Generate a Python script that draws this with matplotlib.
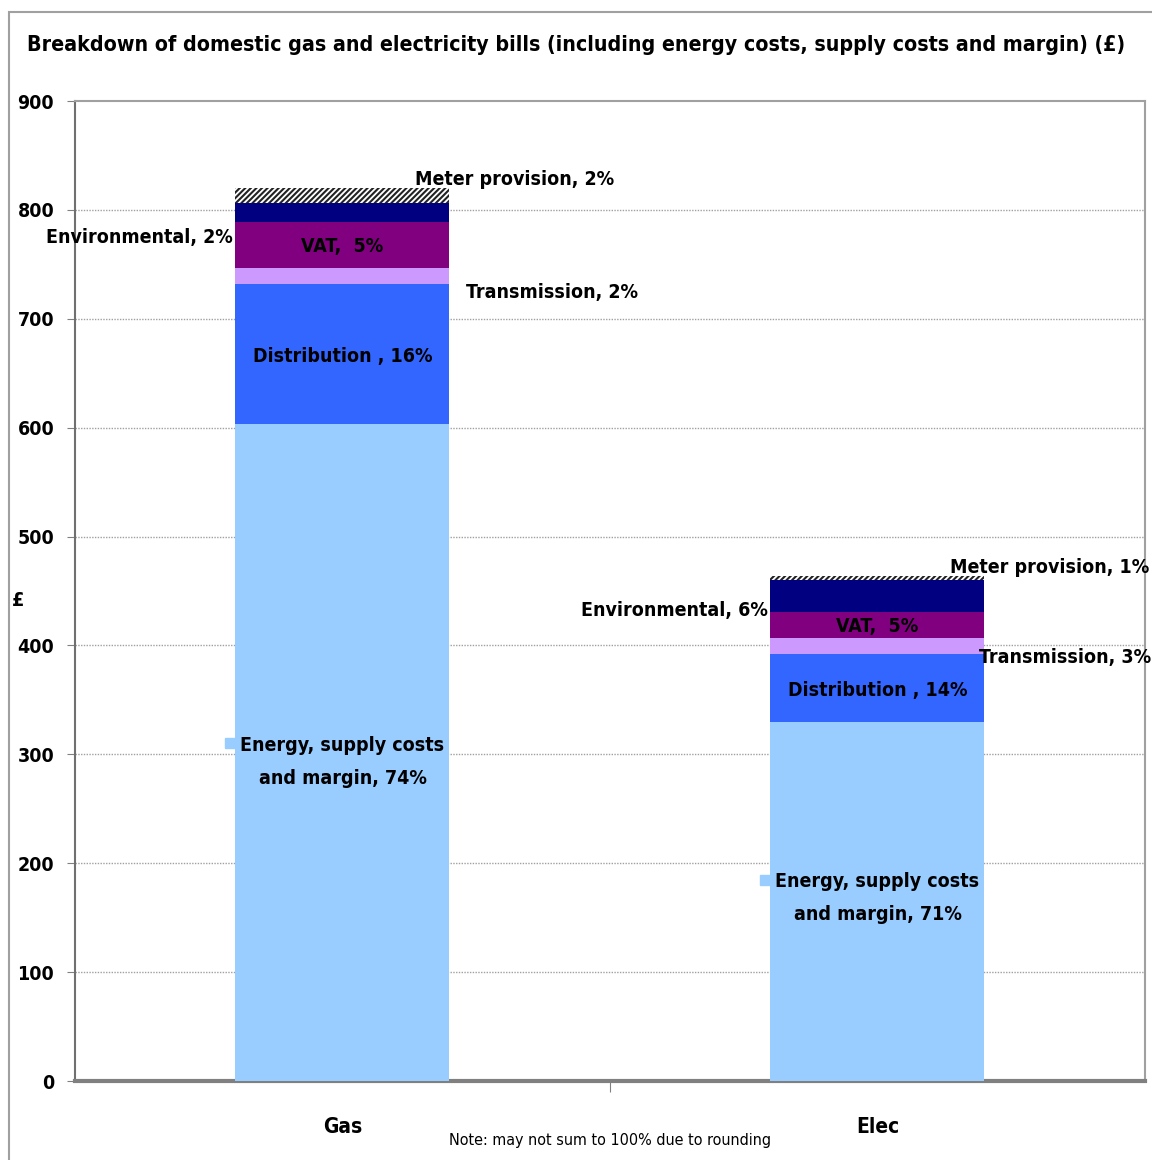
import matplotlib
matplotlib.use("Agg")
import matplotlib.pyplot as plt
from matplotlib.patches import Rectangle

plt.rcParams['font.family'] = ["DejaVu Sans"]
plt.rcParams['font.stretch'] = "condensed"
plt.rcParams['hatch.linewidth'] = 1.5

categories = ["Gas", "Elec"]
components = ["Energy, supply costs\nand margin", "Distribution ", "Transmission",
              "VAT", "Environmental", "Meter provision"]
gas_values = [603, 129, 15, 42, 17, 14]
elec_values = [330, 62, 15, 24, 29, 4]
gas_pct = [74, 16, 2, 5, 2, 2]
elec_pct = [71, 14, 3, 5, 6, 1]
y_ticks = [0, 100, 200, 300, 400, 500, 600, 700, 800, 900]

colors = ["#99CCFF", "#3366FF", "#CC99FF", "#800080", "#000080", "white"]
hatches = [None, None, None, None, None, "//////"]

fig = plt.figure(figsize=(11.52, 11.6), dpi=100)
ax = fig.add_axes([0.0651, 0.0681, 0.9288, 0.8448])

# outer chart frame
fig.patches.append(Rectangle((0.008, -0.05), 1.2, 1.04, transform=fig.transFigure,
                             fill=False, edgecolor="#A0A0A0", lw=1.5))

series = [gas_values, elec_values]
width = 0.4
for i, vals in enumerate(series):
    bottom = 0
    for j, v in enumerate(vals):
        ax.bar(i, v, width=width, bottom=bottom, color=colors[j],
               edgecolor="#222222" if hatches[j] else "none", linewidth=0,
               hatch=hatches[j], zorder=3)
        bottom += v

ax.set_xlim(-0.5, 1.5)
ax.set_ylim(0, 900)
ax.set_yticks(y_ticks)
ax.set_yticklabels([str(t) for t in y_ticks], fontsize=14, fontweight="bold")
ax.set_xticks([0.5])
ax.set_xticklabels([""])
ax.tick_params(axis="x", length=8, color="#808080", direction="out")
ax.tick_params(axis="y", length=6, color="#808080", direction="out", pad=9)
for t in y_ticks[1:-1]:
    ax.axhline(t, color="#A0A0A0", lw=1, ls=(0, (1, 1)), zorder=1)
for s in ["top", "right"]:
    ax.spines[s].set_color("#A0A0A0")
    ax.spines[s].set_linewidth(1.5)
ax.spines["left"].set_color("#707070")
ax.spines["left"].set_linewidth(1.5)
ax.spines["bottom"].set_color("#808080")
ax.spines["bottom"].set_linewidth(3)

for i, c in enumerate(categories):
    ax.text(i, -42, c, ha="center", va="center", fontsize=15, fontweight="bold")
ax.text(0.5, -55, "Note: may not sum to 100% due to rounding", ha="center", va="center",
        fontsize=11.5)
ax.set_ylabel("£", fontsize=14, fontweight="bold", rotation=0, va="center")
ax.yaxis.set_label_coords(-0.053, 0.49)

fig.text(0.5, 0.961, "Breakdown of domestic gas and electricity bills (including energy costs, "
         "supply costs and margin) (£)", ha="center", va="center", fontsize=15.3,
         fontweight="bold")

fs = 14
energy_shift = [-8.5, 3]


def cum(vals):
    out, s = [], 0
    for v in vals:
        out.append((s, s + v))
        s += v
    return out


for i, (vals, pct) in enumerate(zip(series, [gas_pct, elec_pct])):
    segs = cum(vals)
    mids = [(a + b) / 2 for a, b in segs]
    left, right = i - width / 2, i + width / 2
    # energy, supply costs and margin with its key square
    yc = mids[0] + energy_shift[i]
    ax.text(i, yc, f"{components[0]}, {pct[0]}%", ha="center", va="center",
            fontsize=fs, fontweight="bold", linespacing=1.95, zorder=5)
    ax.plot(left - 0.01, yc + 17, marker="s", ms=7, color=colors[0], zorder=5,
            clip_on=False)
    # distribution
    ax.text(i, mids[1] - 2, f"{components[1]}, {pct[1]}%", ha="center", va="center",
            fontsize=fs, fontweight="bold", zorder=5)
    # VAT
    ax.text(i, mids[3] - 2, f"{components[3]},  {pct[3]}%", ha="center", va="center",
            fontsize=fs, fontweight="bold", zorder=5)
    # transmission, right side
    ax.text(right + 0.03 - 0.04 * i, mids[2] - 11 - 4 * (1 - i), f"{components[2]}, {pct[2]}%",
            ha="left", va="center", fontsize=fs, fontweight="bold", zorder=5)
    # environmental, left side
    ax.text(left - 0.005, mids[4] - 23 + 10 * i, f"{components[4]}, {pct[4]}%",
            ha="right", va="center", fontsize=fs, fontweight="bold", zorder=5)
    # meter provision, upper right
    ax.text(right - 0.065, segs[5][1] + 8, f"{components[5]}, {pct[5]}%",
            ha="left", va="center", fontsize=fs, fontweight="bold", zorder=5)

fig.savefig("out.png", dpi=100)
